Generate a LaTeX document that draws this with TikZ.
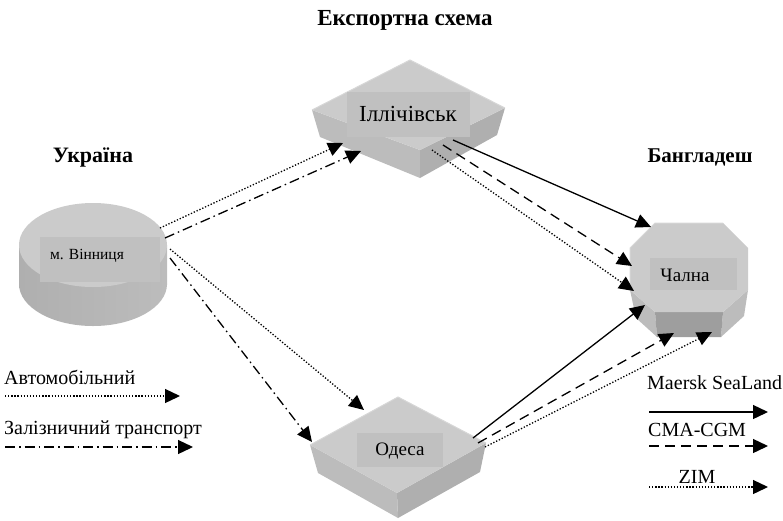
\documentclass[tikz,border=0pt]{standalone}
\usepackage{fontspec}
\setmainfont{Liberation Serif}
\usetikzlibrary{arrows.meta}
\definecolor{topc}{RGB}{203,203,203}
\definecolor{sidec}{RGB}{188,188,188}
\definecolor{sided}{RGB}{175,175,175}
\definecolor{boxc}{RGB}{192,192,192}
\definecolor{darkc}{RGB}{158,158,158}
\definecolor{edgec}{RGB}{215,215,215}
\begin{document}
\begin{tikzpicture}[x=1pt,y=-1pt,
  conn/.style={line width=1.3pt,-{Triangle[length=15pt,width=14pt]}},
  autoline/.style={conn,dash pattern=on 1.3pt off 1.8pt},
  rail/.style={conn,dash pattern=on 10pt off 4pt on 1.5pt off 4pt},
  maersk/.style={conn},
  cma/.style={conn,dash pattern=on 10pt off 6pt},
  zim/.style={conn,dash pattern=on 1.3pt off 1.8pt},
  lbl/.style={font=\fontsize{19}{21}\selectfont,inner sep=0pt},
  title/.style={font=\fontsize{22}{24}\selectfont\bfseries,inner sep=0pt},
  legtxt/.style={font=\fontsize{20}{22}\selectfont,inner sep=0pt,anchor=west},
  labbox/.style={fill=boxc,draw=none}]
\useasboundingbox (0,0) rectangle (783,520);

% titles
\node[title,font=\fontsize{23}{25}\selectfont\bfseries] (t0) at (405,20) {Експортна схема};
\node[title] (t1) at (93,157) {Україна};
\node[title,font=\fontsize{21}{23}\selectfont\bfseries] (t2) at (700,157) {Бангладеш};

% Vinnytsia cylinder
\shade[left color=sided,middle color=edgec,right color=sidec] (19,245) rectangle (167,284);
\shade[left color=sided,middle color=edgec,right color=sidec] (93,284) ellipse[x radius=74,y radius=42];
\fill[topc] (93,245) ellipse[x radius=74,y radius=42];
\fill[boxc] (40,237) rectangle (160,282);
\node[lbl,font=\fontsize{15.5}{17}\selectfont] (vin) at (87,256) {м. Вінниця};

% Illichivsk
\fill[sidec] (312,110) -- (420,150) -- (420,178) -- (320,137) -- cycle;
\fill[sided] (420,150) -- (505,108) -- (497,135) -- (420,178) -- cycle;
\fill[topc] (410,60) -- (505,108) -- (420,150) -- (312,110) -- cycle;
\draw[edgec,line width=1pt] (312,110) -- (410,60) -- (505,108);
\fill[boxc] (347,92) rectangle (470,137);
\node[lbl,font=\fontsize{23}{25}\selectfont] (ill) at (408,114) {Іллічівськ};

% Odesa
\fill[sidec] (310,445) -- (397,493) -- (398,518) -- (318,473) -- cycle;
\fill[sided] (397,493) -- (486,443) -- (480,472) -- (398,518) -- cycle;
\fill[topc] (398,397) -- (486,443) -- (397,493) -- (310,445) -- cycle;
\draw[edgec,line width=1pt] (310,445) -- (398,397) -- (486,443);
\fill[boxc] (357,433) rectangle (443,467);
\node[lbl] (ode) at (400,451) {Одеса};

% Chalna
\fill[sidec] (630,290) -- (655,312) -- (657,337) -- (636,318) -- cycle;
\fill[sidec] (748,290) -- (723,312) -- (721,337) -- (744,316) -- cycle;
\fill[darkc] (655,312) -- (723,312) -- (721,337) -- (657,337) -- cycle;
\fill[topc] (655,223) -- (723,223) -- (748,248) -- (748,290) -- (723,312) -- (655,312) -- (630,290) -- (630,248) -- cycle;
\draw[edgec,line width=1pt] (630,290) -- (630,248) -- (655,223) -- (723,223);
\fill[boxc] (650,258) rectangle (737,290);
\node[lbl] (cha) at (685,275) {Чална};

% connector end points
\coordinate (v1) at (160,228);
\coordinate (v2) at (165,238);
\coordinate (v3) at (170,249);
\coordinate (v4) at (170,258);
\coordinate (i1) at (343,143);
\coordinate (i2) at (361,151);
\coordinate (o1) at (364,410);
\coordinate (o2) at (312,442);
\coordinate (is) at (453,140);
\coordinate (id) at (443,145);
\coordinate (iz) at (432,150);
\coordinate (c1) at (651,227);
\coordinate (c2) at (632,266);
\coordinate (c3) at (634,291);
\coordinate (os) at (473,438);
\coordinate (od) at (478,443);
\coordinate (oz) at (485,447);
\coordinate (c4) at (645,305);
\coordinate (c5) at (674,333);
\coordinate (c6) at (712,332);

\draw[autoline] (v1) -- (i1);
\draw[rail] (v2) -- (i2);
\draw[autoline] (v3) -- (o1);
\draw[rail] (v4) -- (o2);
\draw[maersk] (is) -- (c1);
\draw[cma] (id) -- (c2);
\draw[zim] (iz) -- (c3);
\draw[maersk] (os) -- (c4);
\draw[cma] (od) -- (c5);
\draw[zim] (oz) -- (c6);

% legend left
\node[legtxt] (l1) at (4,377) {Автомобільний};
\coordinate (l1a) at (5,396);
\coordinate (l1b) at (180,396);
\draw[autoline] (l1a) -- (l1b);
\node[legtxt] (l2) at (4,430) {Залізничний транспорт};
\coordinate (l2a) at (5,447);
\coordinate (l2b) at (193,447);
\draw[rail] (l2a) -- (l2b);

% legend right
\node[legtxt] (r1) at (647,383) {Maersk SeaLand};
\coordinate (r1a) at (649,412);
\coordinate (r1b) at (768,412);
\draw[maersk] (r1a) -- (r1b);
\node[legtxt] (r2) at (648,430) {CMA-CGM};
\coordinate (r2a) at (649,446);
\coordinate (r2b) at (768,446);
\draw[cma] (r2a) -- (r2b);
\node[legtxt,anchor=center] (r3) at (697,477) {ZIM};
\coordinate (r3a) at (649,487);
\coordinate (r3b) at (768,487);
\draw[zim] (r3a) -- (r3b);
\end{tikzpicture}
\end{document}
